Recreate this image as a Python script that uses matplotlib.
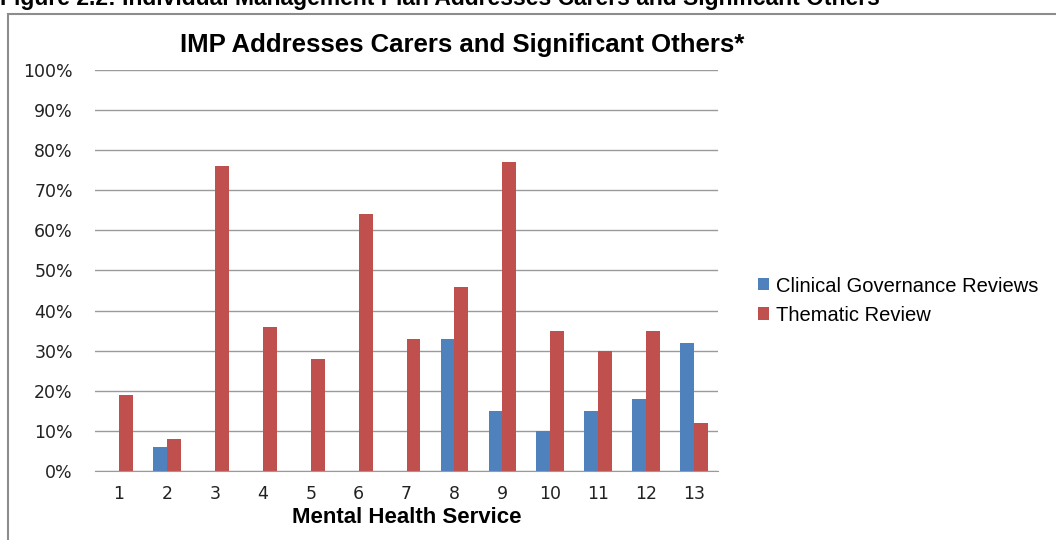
import matplotlib.pyplot as plt
from matplotlib.patches import Rectangle
import numpy as np

services = ['1', '2', '3', '4', '5', '6', '7', '8', '9', '10', '11', '12', '13']
clinical = [0, 6, 0, 0, 0, 0, 0, 33, 15, 10, 15, 18, 32]
thematic = [19, 8, 76, 36, 28, 64, 33, 46, 77, 35, 30, 35, 12]
yticks = [0, 10, 20, 30, 40, 50, 60, 70, 80, 90, 100]

blue = '#4f81bd'
red = '#c0504d'

fig = plt.figure(figsize = (10.56, 5.4), dpi = 100)
ax = fig.add_axes([0.09, 0.1278, 0.59, 0.7426])

# chart frame, runs off the right and bottom of the page
fig.patches.append(Rectangle((8 / 1056, -0.1), 1.2, 1 - 14 / 540 + 0.1,
                             transform = fig.transFigure, fill = False,
                             edgecolor = '#8c8c8c', linewidth = 1.5))

# caption sits at the very top of the page
fig.text(0.0, 1 - 5 / 540, 'Figure 2.2: Individual Management Plan Addresses Carers and Significant Others',
         family = 'Liberation Sans', fontweight = 'bold', fontsize = 16.5,
         ha = 'left', va = 'baseline')

x = np.arange(len(services))
w = 0.29
ax.bar(x - w / 2, clinical, w, color = blue, label = 'Clinical Governance Reviews', zorder = 3)
ax.bar(x + w / 2, thematic, w, color = red, label = 'Thematic Review', zorder = 3)

ax.set_xlim(-0.5, len(services) - 0.5)
ax.set_ylim(0, 100)
ax.set_yticks(yticks)
ax.set_yticklabels([f'{v}%' for v in yticks], family = 'DejaVu Sans', fontsize = 12.5, color = '#222222')
ax.set_xticks(x)
ax.set_xticklabels(services, family = 'DejaVu Sans', fontsize = 12.5, color = '#222222')
ax.tick_params(axis = 'y', length = 0, pad = 16)
ax.tick_params(axis = 'x', length = 0, pad = 10)
ax.yaxis.grid(True, color = '#9a9a9a', linewidth = 1, zorder = 0)
for s in ['left', 'right', 'top']:
    ax.spines[s].set_visible(False)
ax.spines['bottom'].set_color('#9a9a9a')
ax.spines['bottom'].set_zorder(4)

ax.set_xlabel('Mental Health Service', family = 'Liberation Sans', fontweight = 'bold',
              fontsize = 16, labelpad = 3)

fig.text(462 / 1056, 1 - 45 / 540, 'IMP Addresses Carers and Significant Others*',
         family = 'Liberation Sans', fontweight = 'bold', fontsize = 18.5, ha = 'center', va = 'center')

leg = ax.legend(loc = 'center left', bbox_to_anchor = (1.035, 0.425), frameon = False,
                prop = {'family': 'Liberation Sans', 'size': 14.5},
                handlelength = 0.55, handleheight = 0.55, handletextpad = 0.35, labelspacing = 0.5)

fig.savefig('out.png', dpi = 100)
